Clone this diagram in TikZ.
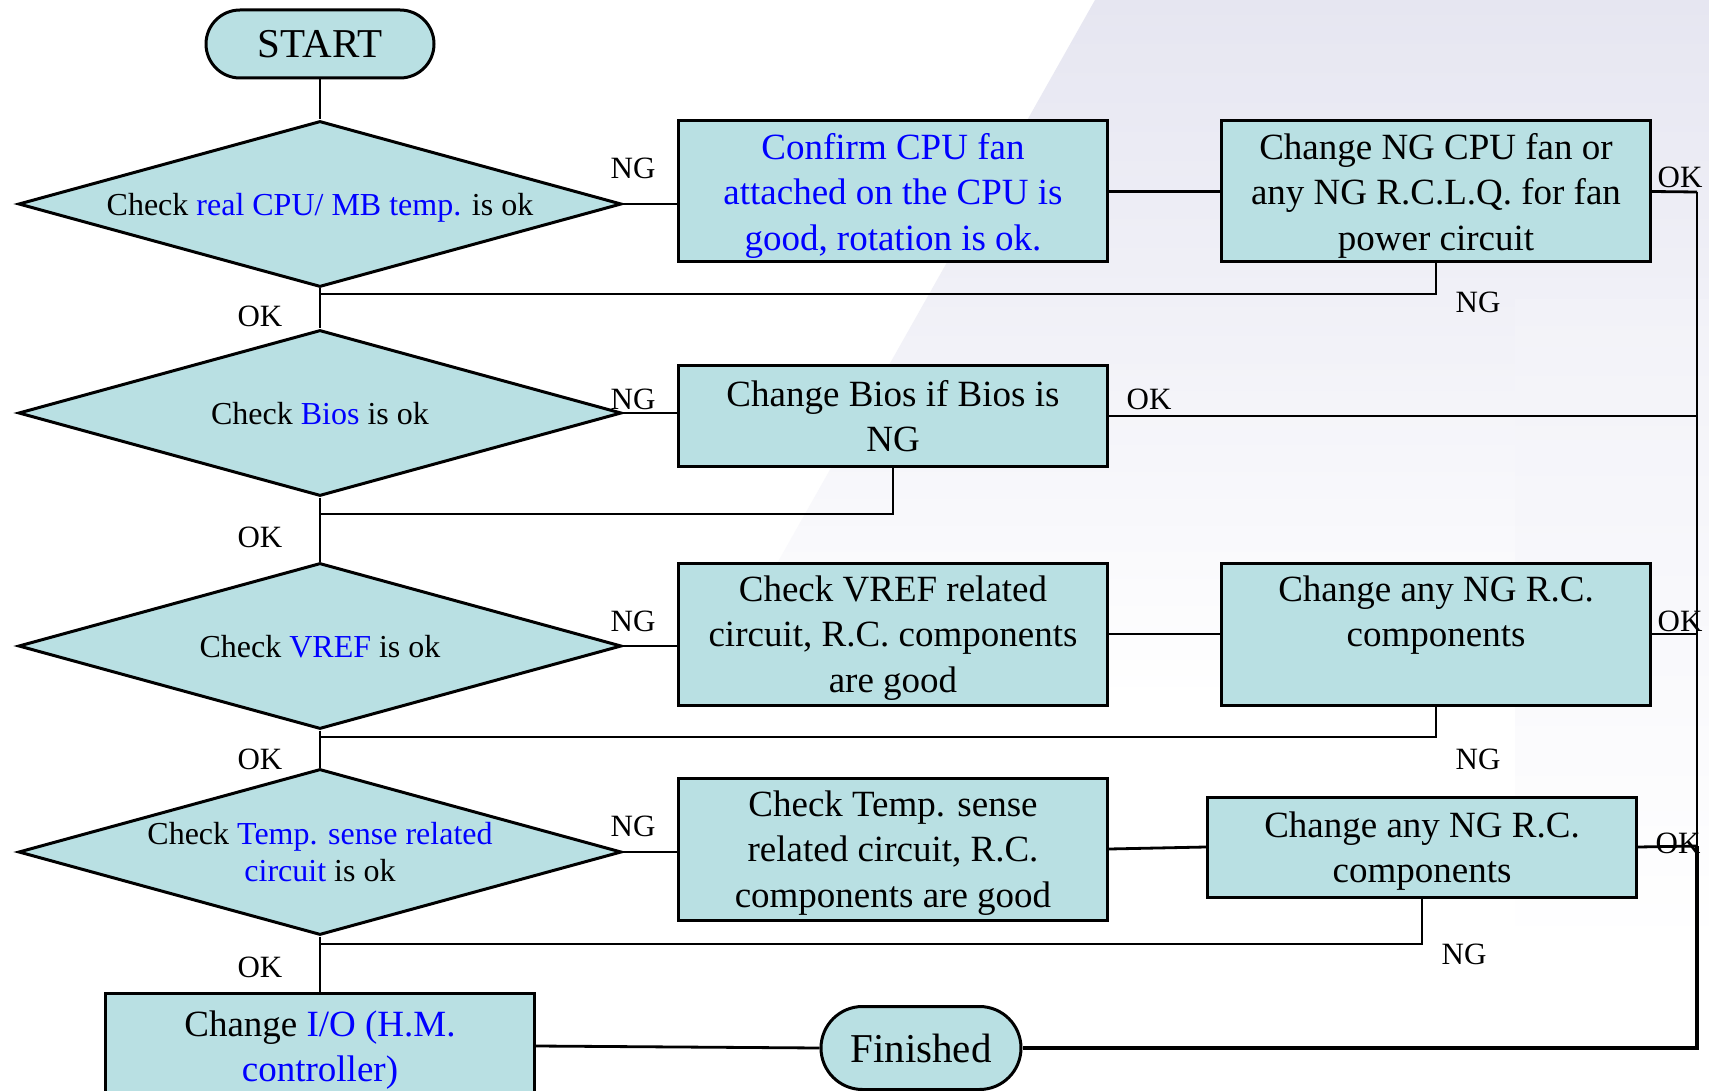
\documentclass[tikz,border=0pt]{standalone}
\usepackage{fontspec}
\setmainfont{Liberation Serif}
\usetikzlibrary{shapes.geometric,shapes.misc}
\definecolor{boxfill}{RGB}{185,224,227}
\definecolor{tblue}{RGB}{0,0,255}
\definecolor{wmark}{RGB}{230,230,241}
\definecolor{wmarkb}{RGB}{242,242,248}
\newcommand\bxf{\fontsize{37}{45.5}\selectfont}
\newcommand\dmf{\fontsize{32}{37}\selectfont}
\newcommand\lbf{\fontsize{31}{34}\selectfont}
\newcommand\stf{\fontsize{41}{45}\selectfont}
\newcommand\bl[1]{\textcolor{tblue}{#1}}
\begin{document}
\begin{tikzpicture}[x=1pt,y=-1pt,
  flowbox/.style={draw=black,line width=3pt,fill=boxfill,rectangle,align=center,inner sep=0pt,text depth=0pt,font=\bxf},
  term/.style={draw=black,line width=3pt,fill=boxfill,rounded rectangle,inner sep=0pt,font=\stf},
  decision/.style={draw=black,line width=3pt,fill=boxfill,diamond,inner sep=0pt,minimum width=603pt,minimum height=166pt},
  dtext/.style={align=center,inner sep=0pt,text depth=0pt,font=\dmf},
  lbl/.style={inner sep=0pt,font=\lbf},
  conn/.style={draw=black,line width=2.8pt},
  rail/.style={draw=black,line width=3.4pt}
]
\useasboundingbox (0,0) rectangle (1709,1091);
\fill[white] (0,0) rectangle (1709,1091);
% faint background watermark
\shade[top color=wmark,bottom color=white,middle color=wmarkb] (1095,0) -- (1709,0) -- (1709,700) -- (700,700) -- cycle;
\shade[top color=wmarkb,bottom color=white] (1515,300) -- (1709,300) -- (1709,950) -- (1515,950) -- cycle;

% terminals
\node[term,minimum width=228pt,minimum height=68pt] (start) at (320,44) {START};
\node[term,minimum width=200pt,minimum height=83pt] (fin) at (921,1048) {Finished};

% decisions
\node[decision] (d1) at (320,204) {};
\node[dtext] (d1t) at (d1.center) {Check \bl{real CPU/ MB temp.} is ok};
\node[decision] (d2) at (320,413) {};
\node[dtext] (d2t) at (d2.center) {Check \bl{Bios} is ok};
\node[decision] (d3) at (320,646) {};
\node[dtext] (d3t) at (d3.center) {Check \bl{VREF} is ok};
\node[decision] (d4) at (320,852) {};
\node[dtext] (d4t) at (d4.center) {Check \bl{Temp. sense related}\\\bl{circuit} is ok};

% boxes
\node[flowbox,minimum width=429pt,minimum height=141pt] (a1) at (893,191.5)
  {\bl{Confirm CPU fan}\\\bl{attached on the CPU is}\\\bl{good, rotation is ok.}};
\node[flowbox,minimum width=429pt,minimum height=141pt] (a2) at (1436,191.5)
  {Change NG CPU fan or\\any NG R.C.L.Q. for fan\\power circuit};
\node[flowbox,minimum width=429pt,minimum height=100pt] (b1) at (893,416)
  {Change Bios if Bios is\\NG};
\node[flowbox,minimum width=429pt,minimum height=142pt] (c1) at (893,634)
  {Check VREF related\\circuit, R.C. components\\are good};
\node[flowbox,minimum width=429pt,minimum height=142pt] (c2) at (1436,634)
  {Change any NG R.C.\\components\\\mbox{}};
\node[flowbox,minimum width=429pt,minimum height=142pt] (e1) at (893,849)
  {Check Temp. sense\\related circuit, R.C.\\components are good};
\node[flowbox,minimum width=429pt,minimum height=100pt] (e2) at (1422,847)
  {Change any NG R.C.\\components};
\node[flowbox,minimum width=429pt,minimum height=106pt] (io) at (320,1046)
  {Change \bl{I/O (H.M.}\\\bl{controller)}};

% junction / rail coordinates
\coordinate (j1) at (320,294);
\coordinate (j2) at (320,514);
\coordinate (j3) at (320,737);
\coordinate (j4) at (320,944);
\coordinate (r1) at (1697,192);
\coordinate (r2) at (1697,416);
\coordinate (r3) at (1697,634);
\coordinate (r4) at (1697,846);
\coordinate (r5) at (1697,1048);

% main spine
\draw[conn] (start.south) -- (d1.north);
\draw[conn] (d1.south) -- (d2.north);
\draw[conn] (d2.south) -- (d3.north);
\draw[conn] (d3.south) -- (d4.north);
\draw[conn] (d4.south) -- (io.north);

% NG branches
\draw[conn] (d1.east) -- (d1.east -| a1.west);
\draw[conn] (a1.east) -- (a2.west);
\draw[conn] (a2.south) |- (j1);
\draw[conn] (d2.east) -- (d2.east -| b1.west);
\draw[conn] (b1.south) |- (j2);
\draw[conn] (d3.east) -- (d3.east -| c1.west);
\draw[conn] (c1.east) -- (c2.west);
\draw[conn] (c2.south) |- (j3);
\draw[conn] (d4.east) -- (d4.east -| e1.west);
\draw[conn] (e1.east) -- (e2.west);
\draw[conn] (e2.south) |- (j4);

% OK branches to rail
\draw[conn] (a2.east) -- (r1);
\draw[conn] (b1.east) -- (r2);
\draw[conn] (c2.east) -- (r3);
\draw[conn] (e2.east) -- (r4);
\draw[conn] (io.east) -- (fin.west);
\draw[conn] (r1) -- (r4);
\draw[rail] (r4) -- (r5) -- (fin.east);

% labels
\node[lbl] (n1) at (633,168) {NG};
\node[lbl] (o1) at (260,316) {OK};
\node[lbl] (n1b) at (1478,302) {NG};
\node[lbl] (o1b) at (1680,177) {OK};
\node[lbl] (n2) at (633,399) {NG};
\node[lbl] (o2b) at (1149,399) {OK};
\node[lbl] (o2) at (260,537) {OK};
\node[lbl] (n3) at (633,621) {NG};
\node[lbl] (o3b) at (1680,621) {OK};
\node[lbl] (n3b) at (1478,759) {NG};
\node[lbl] (o3) at (260,759) {OK};
\node[lbl] (n4) at (633,826) {NG};
\node[lbl] (o4b) at (1678,843) {OK};
\node[lbl] (n4b) at (1464,954) {NG};
\node[lbl] (o4) at (260,967) {OK};
\end{tikzpicture}
\end{document}
